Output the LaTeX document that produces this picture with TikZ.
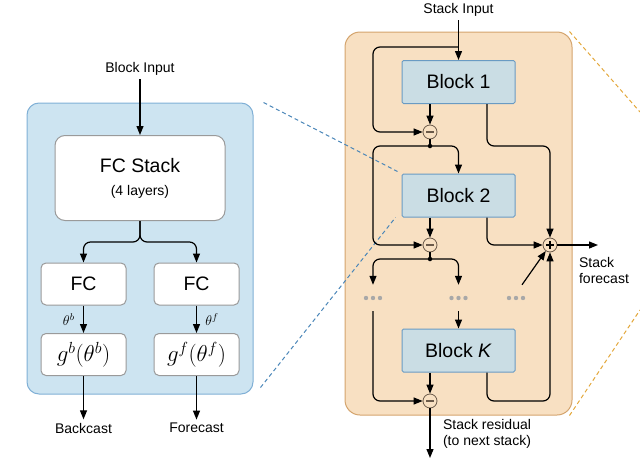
\documentclass[tikz,border=0pt]{standalone}
\usepackage{fix-cm}
\usepackage{fontspec}
\setmainfont{Liberation Sans}
\usetikzlibrary{positioning,arrows.meta}
\definecolor{leftfill}{HTML}{CDE4F1}
\definecolor{leftedge}{HTML}{80B0D6}
\definecolor{stackfill}{HTML}{F8E0C2}
\definecolor{stackedge}{HTML}{D4A46D}
\definecolor{blockfill}{HTML}{CADDE4}
\definecolor{blockedge}{HTML}{6A9BC3}
\definecolor{boxgray}{HTML}{9A9A9A}
\definecolor{opedge}{HTML}{6B5A4A}
\definecolor{dotgray}{HTML}{A8A8A8}
\definecolor{zoomblue}{HTML}{4A86B8}
\definecolor{zoomorange}{HTML}{E3A83C}

\begin{document}
\begin{tikzpicture}[
        x=1pt,
        y=-1pt,
        font=\fontsize{14}{16}\selectfont,
        panel/.style={
            rectangle,
            draw,
            line width=1pt,
            rounded corners=12pt,
            inner sep=0pt
        },
        fcbox/.style={
            rectangle,
            draw=boxgray,
            fill=white,
            line width=1pt,
            rounded corners=5pt,
            minimum width=85pt,
            minimum height=42pt,
            font=\fontsize{19.5}{22}\selectfont
        },
        nbblock/.style={
            rectangle,
            draw=blockedge,
            fill=blockfill,
            line width=1pt,
            rounded corners=1.5pt,
            minimum width=113pt,
            minimum height=43pt,
            font=\fontsize{19.5}{22}\selectfont
        },
        op/.style={
            circle,
            draw=opedge,
            fill=stackfill,
            line width=0.8pt,
            minimum size=14pt,
            inner sep=0pt
        },
        minus/.style={
            op,
            path picture={\draw[line width=1.4pt,opedge] ([xshift=-4pt]path picture bounding box.center) -- ([xshift=4pt]path picture bounding box.center);}
        },
        plus/.style={
            op,
            path picture={\draw[line width=1.1pt,black] ([xshift=-4pt]path picture bounding box.center) -- ([xshift=4pt]path picture bounding box.center) ([yshift=-4pt]path picture bounding box.center) -- ([yshift=4pt]path picture bounding box.center);}
        },
        junction/.style={
            circle,
            fill=black,
            minimum size=4.5pt,
            inner sep=0pt
        },
        ellip/.style={
            minimum width=24pt,
            minimum height=26pt,
            path picture={\foreach \k in {-1,0,1} \fill[dotgray] ([xshift=\k*7pt]path picture bounding box.center) circle (2.2pt);}
        },
        zoomline/.style={
            draw,
            line width=1pt,
            dash pattern=on 4pt off 3pt
        },
        wire/.style={
            draw,
            line width=1.2pt,
            rounded corners=7pt
        },
        line/.style={
            wire,
            -{Triangle[length=9pt,width=7pt]}
        },
      ]
        \useasboundingbox (0,0) rectangle (640,474);
        \node [panel,draw=leftedge,fill=leftfill,minimum width=226pt,minimum height=291pt] (blockpanel) at (140,248.5) {};
        \node [panel,draw=stackedge,fill=stackfill,rounded corners=15pt,minimum width=227pt,minimum height=383pt] (stackpanel) at (458.5,223.5) {};
        \node (blockin) at (140,69) {Block Input};
        \node [fcbox,minimum width=170pt,minimum height=85pt,rounded corners=10pt,align=center] (fcstack) at (140,178) {FC Stack\\[1pt]{\fontsize{14}{16}\selectfont (4 layers)}};
        \node [fcbox] (fcb) at (83.5,284) {FC};
        \node [fcbox] (fcf) at (196.5,284) {FC};
        \node [fcbox,font=\fontsize{23}{25}\selectfont] (gb) at (83.5,354.5) {$g^b(\theta^b)$};
        \node [fcbox,font=\fontsize{23}{25}\selectfont] (gf) at (196.5,354.5) {$g^f(\theta^f)$};
        \node (backcast) at (83.5,428) {Backcast};
        \node (forecast) at (196.5,428) {Forecast};
        \coordinate (split) at (140,242);
        \node (stackin) at (458.5,10) {Stack Input};
        \node [nbblock] (block1) at (458.5,82) {Block 1};
        \node [nbblock] (block2) at (458.5,195.5) {Block 2};
        \node [nbblock] (blockK) at (458.5,350.5) {Block \textit{K}};
        \node [minus] (sub1) at (430,132) {};
        \node [junction] (fork1) at (430,146) {};
        \node [minus] (sub2) at (430,245) {};
        \node [junction] (fork2) at (430,259) {};
        \node [minus] (sub3) at (430,401) {};
        \node [plus] (sum) at (550,245) {};
        \node [ellip] (dotsL) at (373,298) {};
        \node [ellip] (dotsM) at (458.5,298) {};
        \node [ellip] (dotsR) at (516,298) {};
        \node [align=left] (fclabel) at (604,270) {Stack\\forecast};
        \node [align=left] (reslabel) at (487,434) {Stack residual\\(to next stack)};
        \coordinate (tap1) at (458.5,47);
        \coordinate (skip1) at (373,132);
        \coordinate (fcout) at (598,245);
        \coordinate (resout) at (430,458);
        \coordinate (zoomtop) at (640,112);
        \coordinate (zoombot) at (640,310);
        \path [zoomline,draw=zoomblue] ([xshift=10pt]blockpanel.north east) -- ([shift={(-4,-2)}]block2.north west);
        \path [zoomline,draw=zoomblue] ([shift={(7,-7)}]blockpanel.south east) -- ([xshift=-6pt]block2.south west);
        \path [zoomline,draw=zoomorange] ([xshift=-3pt]stackpanel.north east) -- (zoomtop);
        \path [zoomline,draw=zoomorange] ([xshift=-3pt]stackpanel.south east) -- (zoombot);
        \path [line] (blockin) -- (fcstack);
        \path [line] (fcstack) -- (split) -| (fcb);
        \path [line] (fcstack) -- (split) -| (fcf);
        \path [line] (fcb) -- node [left=5pt] {$\theta^b$} (gb);
        \path [line] (fcf) -- node [right=5pt] {$\theta^f$} (gf);
        \path [line] (gb) -- (backcast);
        \path [line] (gf) -- (forecast);
        \path [line] (stackin) -- (block1);
        \path [line] (tap1) -| (skip1) -- (sub1);
        \path [line] (block1.south -| sub1) -- (sub1);
        \path [wire] (sub1) -- (fork1.center);
        \path [line] (fork1.center) -| (block2);
        \path [line] (fork1.center) -| (sub2 -| skip1) -- (sub2);
        \path [line] ([xshift=28.5pt]block1.south) |- (fork1 -| sum) -- (sum);
        \path [line] (block2.south -| sub2) -- (sub2);
        \path [line] ([xshift=28.5pt]block2.south) |- (sum);
        \path [wire] (sub2) -- (fork2.center);
        \path [line] (fork2.center) -| (dotsL);
        \path [line] (fork2.center) -| (dotsM);
        \path [line] ([xshift=6pt]dotsR.north) -- (sum);
        \path [line] (dotsM) -- (blockK);
        \path [line] (dotsL) |- (sub3);
        \path [line] (blockK.south -| sub3) -- (sub3);
        \path [line] ([xshift=28.5pt]blockK.south) |- (sub3 -| sum) -- (sum);
        \path [line] (sum) -- (fcout);
        \path [line] (sub3) -- (resout);
      \end{tikzpicture}
\end{document}
